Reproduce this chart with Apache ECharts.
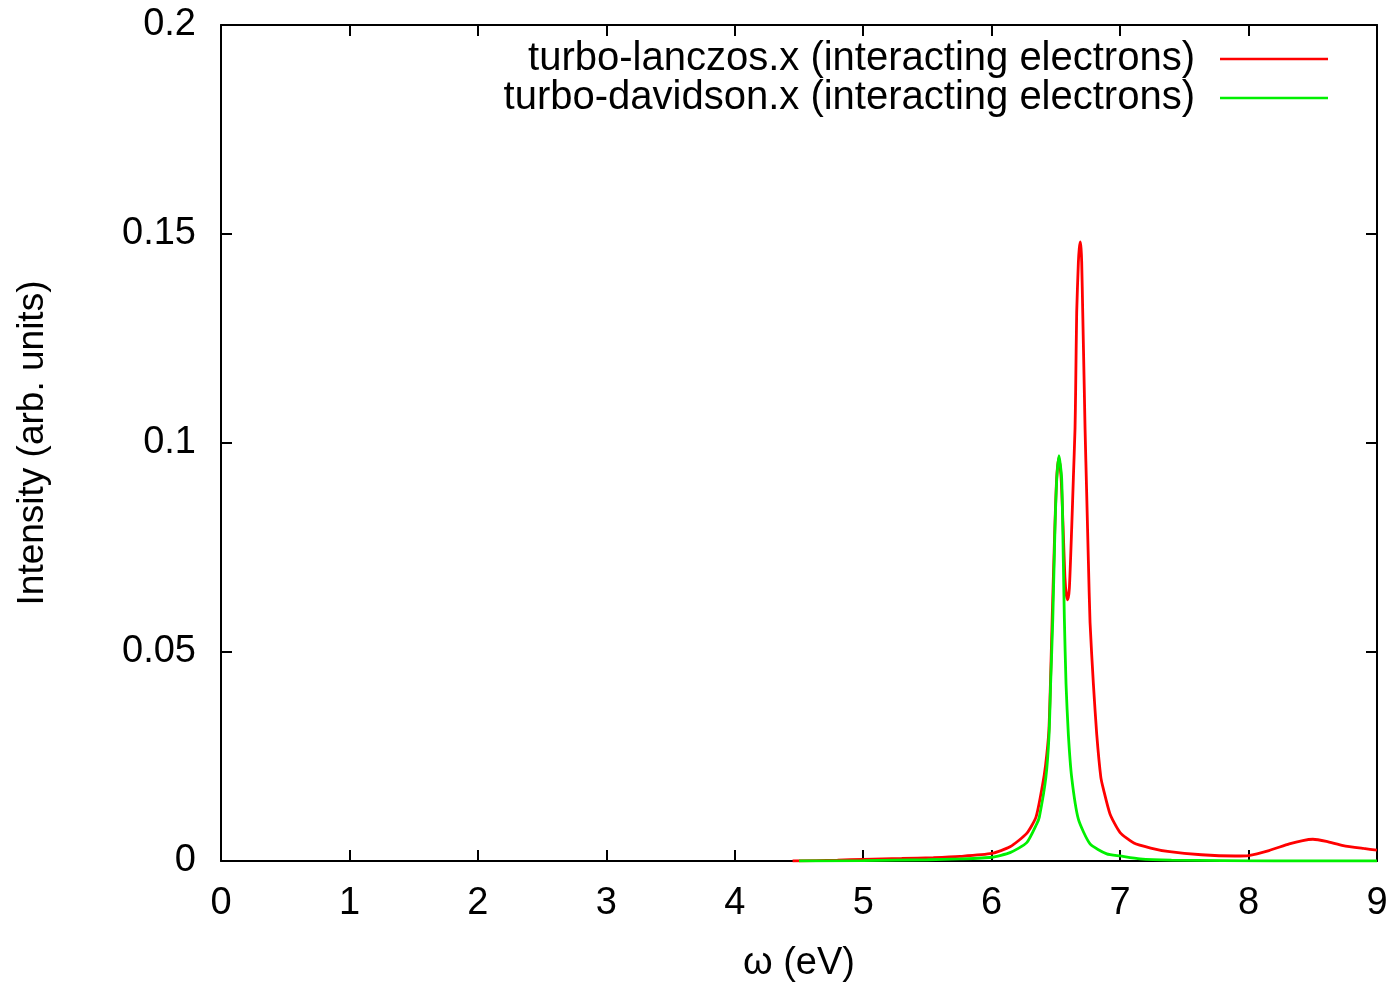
<!DOCTYPE html>
<html>
<head>
<meta charset="utf-8">
<script src="https://cdn.jsdelivr.net/npm/echarts@6/dist/echarts.min.js"></script>
<style>
  html, body { margin: 0; padding: 0; background: #fff; overflow: hidden; }
  #chart { width: 1397px; height: 988px; }
</style>
</head>
<body>
<div id="chart"></div>
<script>
// values
const lanczosX = [4.45, 4.8, 5.0, 5.3, 5.546, 5.754, 6.0, 6.143, 6.273, 6.345, 6.395, 6.42, 6.445, 6.458,
  6.472, 6.492, 6.506, 6.522, 6.54, 6.556, 6.57, 6.582, 6.592, 6.605, 6.623, 6.636, 6.649, 6.654, 6.662,
  6.675, 6.682, 6.69, 6.696, 6.701, 6.709, 6.721, 6.727, 6.74, 6.753, 6.766, 6.792, 6.818, 6.85, 6.87,
  6.922, 7.0, 7.107, 7.238, 7.37, 7.633, 7.896, 8.0, 8.159, 8.317, 8.422, 8.501, 8.606, 8.737, 8.895, 9.0];
const lanczosY = [0.0000, 0.0002, 0.0004, 0.0006, 0.0008, 0.0011, 0.0018, 0.0034, 0.0066, 0.0105, 0.0180,
  0.0230, 0.0310, 0.0430, 0.0590, 0.0800, 0.0915, 0.0965, 0.0920, 0.0800, 0.0680, 0.0635, 0.0625, 0.0653,
  0.0796, 0.0915, 0.1035, 0.1130, 0.1313, 0.1432, 0.1465, 0.1481, 0.1465, 0.1432, 0.1313, 0.1130, 0.1035,
  0.0876, 0.0717, 0.0570, 0.0423, 0.0303, 0.0200, 0.0172, 0.0112, 0.0068, 0.0043, 0.0031, 0.0023, 0.0015,
  0.0012, 0.0013, 0.0025, 0.0041, 0.0049, 0.0052, 0.0047, 0.0037, 0.0030, 0.0026];

const davidsonX = [4.5, 5.0, 5.5, 5.754, 6.0, 6.143, 6.273, 6.351, 6.371, 6.422, 6.447, 6.459, 6.476,
  6.493, 6.507, 6.524, 6.545, 6.558, 6.566, 6.579, 6.597, 6.623, 6.675, 6.766, 6.896, 7.0, 7.155, 7.4,
  7.8, 8.2, 9.0];
const davidsonY = [0.0000, 0.0001, 0.0003, 0.0005, 0.0009, 0.0020, 0.0044, 0.0089, 0.0105, 0.0200, 0.0303,
  0.0423, 0.0580, 0.0796, 0.0915, 0.0970, 0.0915, 0.0717, 0.0580, 0.0423, 0.0303, 0.0200, 0.0100, 0.0041,
  0.0017, 0.0012, 0.0005, 0.0002, 0.0001, 0.0000, 0.0000];

const seriesNames = ['turbo-lanczos.x (interacting electrons)', 'turbo-davidson.x (interacting electrons)'];

const FONT = '"Liberation Sans", Arial, sans-serif';
const chart = echarts.init(document.getElementById('chart'), null, { width: 1397, height: 988 });

const axisLine = { show: true, onZero: false, lineStyle: { color: '#000', width: 2 } };
const tickStyle = { show: true, inside: true, length: 11, lineStyle: { color: '#000', width: 2 } };

chart.setOption({
  backgroundColor: '#fff',
  animation: false,
  grid: { left: 221, top: 25, width: 1156, height: 839 },
  legend: {
    orient: 'vertical',
    right: 64,
    top: 34,
    align: 'right',
    icon: 'rect',
    itemWidth: 108,
    itemHeight: 2.5,
    itemGap: -1,
    textStyle: { fontFamily: FONT, fontSize: 40, color: '#000', padding: [0, 20, 0, 0] },
    data: seriesNames
  },
  xAxis: [{
    type: 'value', min: 0, max: 9, interval: 1, position: 'bottom',
    name: 'ω (eV)', nameLocation: 'middle', nameGap: 84,
    nameTextStyle: { fontFamily: FONT, fontSize: 38, color: '#000' },
    axisLine: axisLine, axisTick: tickStyle, splitLine: { show: false },
    axisLabel: { fontFamily: FONT, fontSize: 38, color: '#000', margin: 24 }
  }, {
    type: 'value', min: 0, max: 9, interval: 1, position: 'top',
    axisLine: axisLine, axisTick: tickStyle, splitLine: { show: false },
    axisLabel: { show: false }
  }],
  yAxis: [{
    type: 'value', min: 0, max: 0.2, interval: 0.05, position: 'left',
    name: 'Intensity (arb. units)', nameLocation: 'middle', nameGap: 170,
    nameTextStyle: { fontFamily: FONT, fontSize: 37, color: '#000' },
    axisLine: axisLine, axisTick: tickStyle, splitLine: { show: false },
    axisLabel: { fontFamily: FONT, fontSize: 38, color: '#000', margin: 25 }
  }, {
    type: 'value', min: 0, max: 0.2, interval: 0.05, position: 'right',
    axisLine: axisLine, axisTick: tickStyle, splitLine: { show: false },
    axisLabel: { show: false }
  }],
  series: [{
    name: seriesNames[0], type: 'line', xAxisIndex: 0, yAxisIndex: 0,
    symbol: 'none', smooth: 0.2,
    lineStyle: { color: '#ff0000', width: 2.8 }, itemStyle: { color: '#ff0000' },
    data: lanczosX.map((x, i) => [x, lanczosY[i]])
  }, {
    name: seriesNames[1], type: 'line', xAxisIndex: 0, yAxisIndex: 0,
    symbol: 'none', smooth: 0.2,
    lineStyle: { color: '#00f000', width: 2.8 }, itemStyle: { color: '#00f000' },
    data: davidsonX.map((x, i) => [x, davidsonY[i]])
  }]
});
</script>
</body>
</html>
